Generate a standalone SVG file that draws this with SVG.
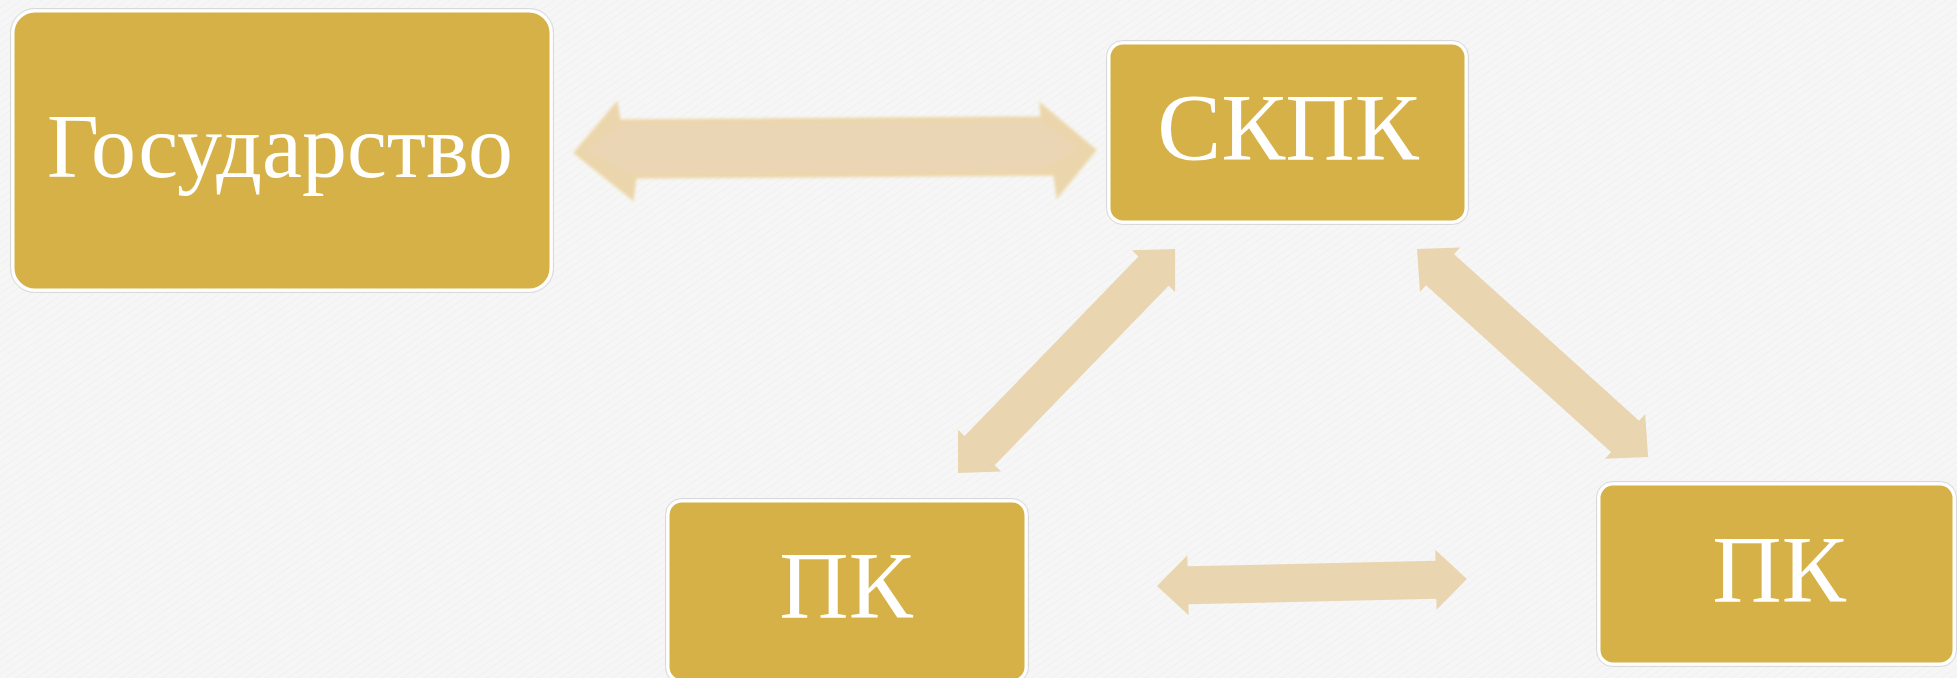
<svg xmlns="http://www.w3.org/2000/svg" width="1957" height="678" viewBox="0 0 1957 678">
  <style>
    .box { fill: #D5B147; stroke: #FFFFFF; stroke-width: 3; }
    .boxedge { fill: none; stroke: #D9D9D9; stroke-width: 1; }
    .lbl { font-family: "Liberation Serif", "DejaVu Serif", serif; fill: #FFFFFF; text-anchor: middle; }
    .arr { fill: #E9D5B0; }
  </style>
  <defs>
    <pattern id="tex" width="6" height="6" patternUnits="userSpaceOnUse" patternTransform="rotate(-35)">
      <rect width="6" height="6" fill="#F6F6F6"/>
      <line x1="0" y1="0" x2="6" y2="0" stroke="#EEEEEE" stroke-width="1.2"/>
    </pattern>
    <filter id="soft" x="-5%" y="-20%" width="110%" height="140%">
      <feGaussianBlur stdDeviation="1.8"/>
    </filter>
  </defs>
  <rect width="1957" height="678" fill="url(#tex)"/>

  <g id="connectors">
    <g id="c-gos-skpk" filter="url(#soft)">
      <polygon points="574,153 617,102 620,120 1041,117 1040,103 1096,150 1057,198 1054,175 636,178 633,200" fill="#EBD5AC" stroke="#EFDBAE" stroke-width="1.5"/>
      <polygon points="586,150 621,124 1040,121 1078,148 1040,171 630,174" fill="#EAD6B4"/>
    </g>
    <polygon id="c-skpk-pk1" class="arr" transform="translate(958,473) rotate(-45.9)" points="0,0 31,-30 31,-21 281,-21 281,-30 312,0 281,30 281,21 31,21 31,30"/>
    <polygon id="c-skpk-pk2" class="arr" transform="translate(1417,249) rotate(42)" points="0,0 31,-30 31,-21 280,-21 280,-30 311,0 280,30 280,21 31,21 31,30"/>
    <polygon id="c-pk1-pk2" class="arr" transform="translate(1157,586) rotate(-1.3)" points="0,0 31,-30 31,-19 279,-19 279,-30 310,0 279,30 279,19 31,19 31,30"/>
  </g>

  <g id="node-gos">
    <rect class="boxedge" x="10.5" y="8.5" width="543" height="284" rx="24"/>
    <rect class="box" x="13" y="11" width="538" height="279" rx="22"/>
    <text class="lbl" x="280" y="177" font-size="90" textLength="466" lengthAdjust="spacingAndGlyphs">Государство</text>
  </g>

  <g id="node-skpk">
    <rect class="boxedge" x="1106.5" y="40.5" width="362" height="184" rx="16"/>
    <rect class="box" x="1109" y="43" width="357" height="179" rx="14"/>
    <text class="lbl" x="1288" y="160" font-size="96">СКПК</text>
  </g>

  <g id="node-pk1">
    <rect class="boxedge" x="665.5" y="498.5" width="363" height="185" rx="16"/>
    <rect class="box" x="668" y="501" width="358" height="180" rx="14"/>
    <text class="lbl" x="846" y="618" font-size="96">ПК</text>
  </g>

  <g id="node-pk2">
    <rect class="boxedge" x="1596.5" y="481.5" width="360" height="185" rx="16"/>
    <rect class="box" x="1599" y="484" width="355" height="180" rx="14"/>
    <text class="lbl" x="1779" y="602" font-size="96">ПК</text>
  </g>
</svg>
